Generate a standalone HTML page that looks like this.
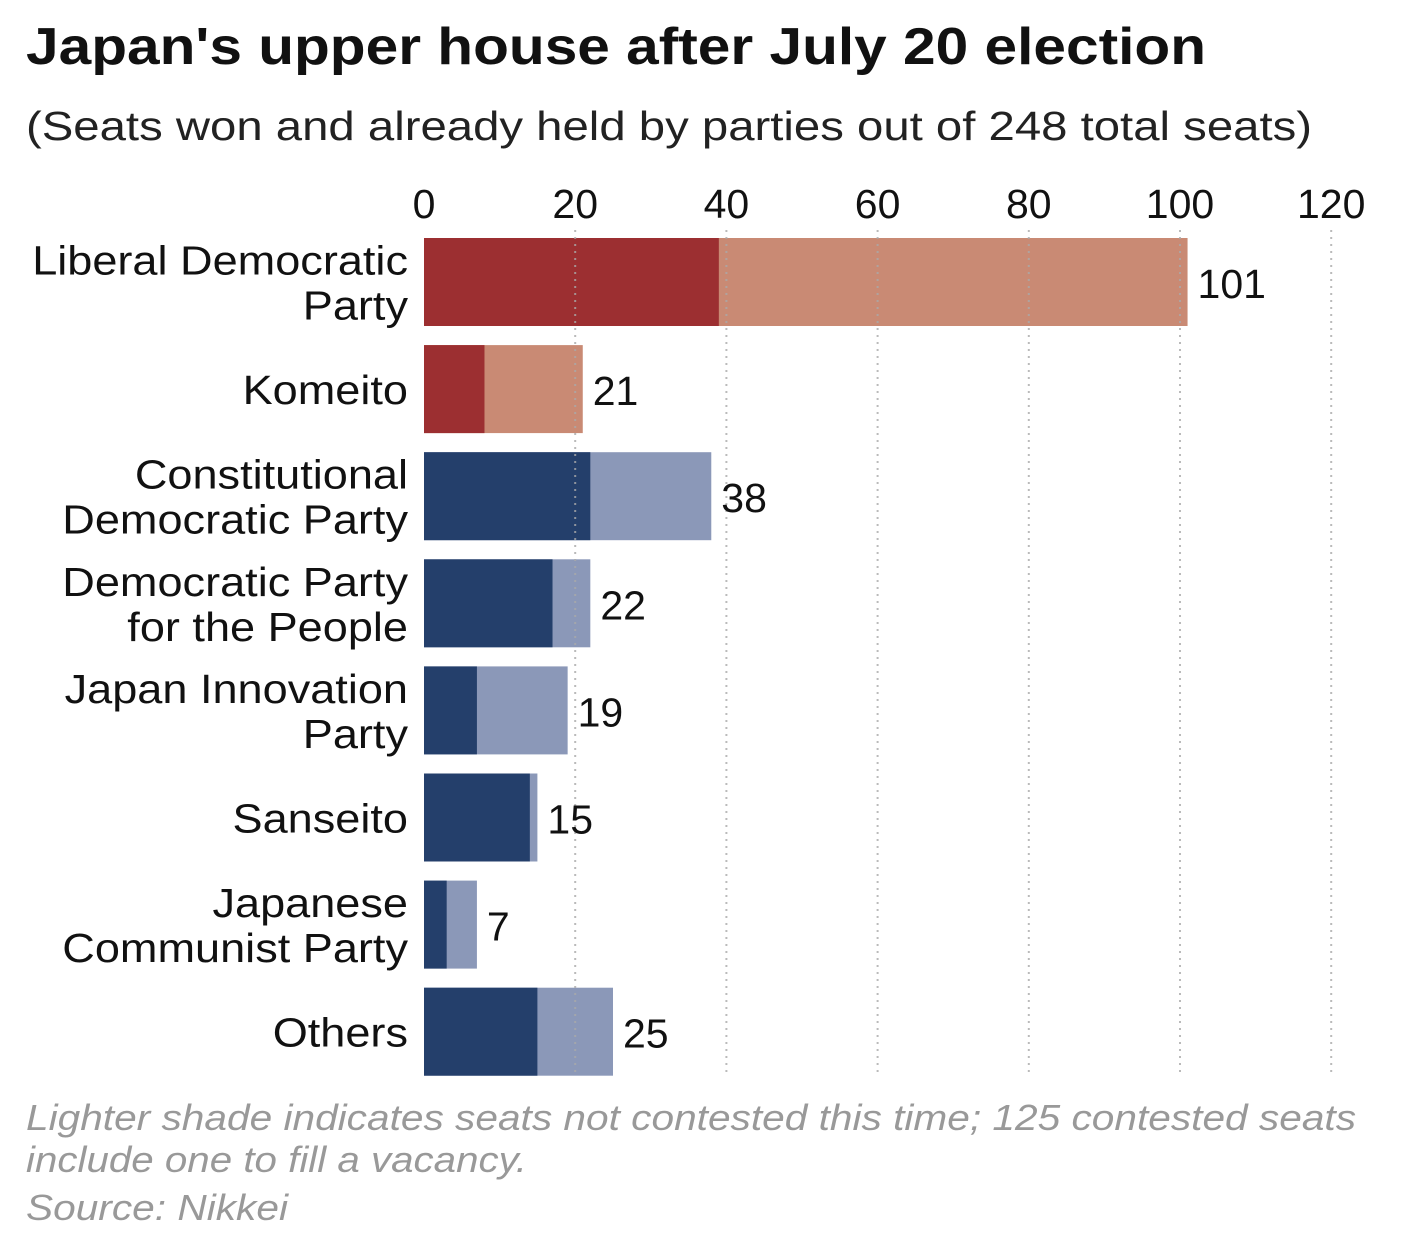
<!DOCTYPE html>
<html><head><meta charset="utf-8">
<style>
html,body{margin:0;padding:0;background:#fff;}
body{width:1412px;height:1230px;overflow:hidden;font-family:"Liberation Sans",Arial,sans-serif;}
</style></head>
<body>
<svg id="chart" width="1412" height="1230" xmlns="http://www.w3.org/2000/svg" font-family="Liberation Sans, Arial, sans-serif">
<text x="26" y="64" font-size="52" font-weight="bold" fill="#111" textLength="1180" lengthAdjust="spacingAndGlyphs">Japan's upper house after July 20 election</text>
<text x="26" y="140" font-size="41" fill="#222" textLength="1286" lengthAdjust="spacingAndGlyphs">(Seats won and already held by parties out of 248 total seats)</text>
<g id="bars"></g>
<g id="grid"></g>
<g id="ticks"></g>
<g id="labels"></g>
<g id="cats" transform="translate(408,0) scale(1.1,1) translate(-408,0)"></g>
<text x="26" y="1130" font-size="36" font-style="italic" fill="#999" textLength="1330" lengthAdjust="spacingAndGlyphs">Lighter shade indicates seats not contested this time; 125 contested seats</text>
<text x="26" y="1172" font-size="36" font-style="italic" fill="#999" textLength="501" lengthAdjust="spacingAndGlyphs">include one to fill a vacancy.</text>
<text x="26" y="1220" font-size="36" font-style="italic" fill="#999" textLength="262" lengthAdjust="spacingAndGlyphs">Source: Nikkei</text>
</svg>
<script>
const categories=[["Liberal Democratic","Party"],["Komeito"],["Constitutional","Democratic Party"],["Democratic Party","for the People"],["Japan Innovation","Party"],["Sanseito"],["Japanese","Communist Party"],["Others"]];
const wonSeats=[39,8,22,17,7,14,3,15];
const totalSeats=[101,21,38,22,19,15,7,25];
const coalition=[true,true,false,false,false,false,false,false];
const ticks=[0,20,40,60,80,100,120];

const NS="http://www.w3.org/2000/svg";
const X0=424, SCALE=7.56, TOPY=238, PITCH=107.1, BH=88;
const xs=v=>X0+v*SCALE;
const yc=i=>TOPY+i*PITCH;
function mk(tag,attrs,parent){const e=document.createElementNS(NS,tag);for(const k in attrs)e.setAttribute(k,attrs[k]);document.getElementById(parent).appendChild(e);return e;}

categories.forEach((c,i)=>{
  const y=yc(i);
  const dark=coalition[i]?"#9c2f31":"#243f6b", light=coalition[i]?"#c98a74":"#8b98b8";
  const lb=mk("rect",{x:xs(0),y:y,width:xs(totalSeats[i])-xs(0),height:BH,fill:light},"bars");
  
  
  const db=mk("rect",{x:xs(0),y:y,width:xs(wonSeats[i])-xs(0),height:BH,fill:dark},"bars");
  
  
  const v=mk("text",{x:xs(totalSeats[i])+10,y:y+BH/2+16,"font-size":41,fill:"#111"},"labels");
  v.textContent=totalSeats[i];
  
  
  const n=c.length;
  c.forEach((line,j)=>{
    const t=mk("text",{x:408,y:y+BH/2+15+(j-(n-1)/2)*45,"font-size":41,fill:"#111","text-anchor":"end"},"cats");
    t.textContent=line;
    
    
  });
});
ticks.forEach(t=>{
  const l=mk("line",{x1:xs(t),x2:xs(t),y1:230,y2:1074,stroke:"#aaa","stroke-width":2,"stroke-dasharray":"2,5",opacity:t===0?0:0.8},"grid");
  
  
  const tx=mk("text",{x:xs(t),y:218,"font-size":41,fill:"#111","text-anchor":"middle"},"ticks");
  tx.textContent=t;
  
  
});
</script>
</body></html>
